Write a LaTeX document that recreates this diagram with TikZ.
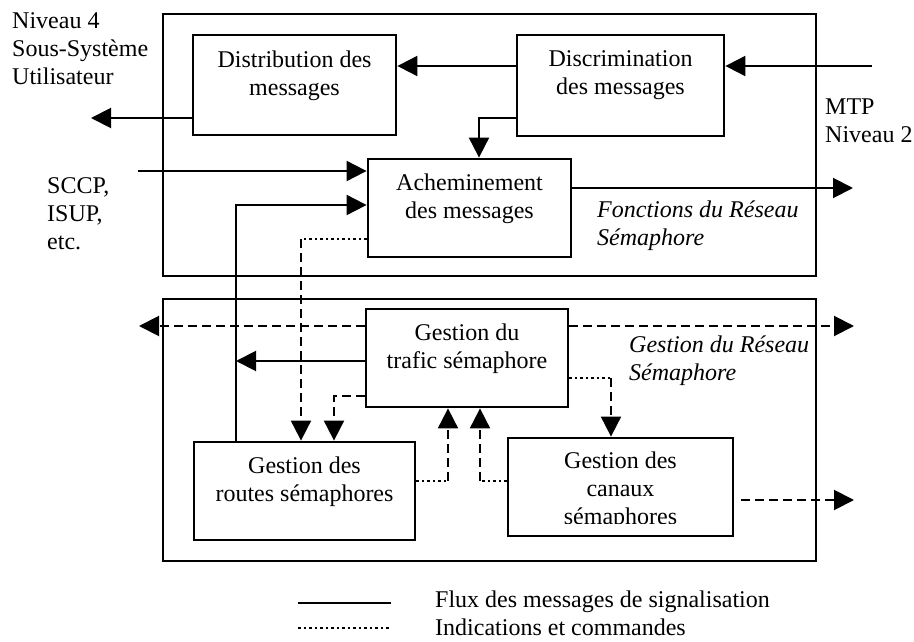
\documentclass[tikz,border=0pt]{standalone}
\usepackage{fontspec}
\setmainfont{Liberation Serif}
\usetikzlibrary{arrows.meta}
\begin{document}
\begin{tikzpicture}[x=1pt,y=-1pt,
  every node/.style={font=\fontsize{24}{28}\selectfont},
  frame/.style={draw, line width=2.8pt, inner sep=0pt},
  func/.style={draw, line width=2.8pt, inner sep=0pt, fill=white},
  txt/.style={align=center, inner sep=0pt},
  note/.style={align=left, inner sep=0pt, anchor=west},
  headtip/.style={-{Triangle[length=20pt,width=20pt]}},
  flow/.style={line width=2pt, headtip},
  flowline/.style={line width=2pt},
  ind/.style={line width=2.5pt, dash pattern=on 2.5pt off 3pt},
  cmd/.style={line width=2pt, dash pattern=on 9pt off 5pt, headtip},
]
\useasboundingbox (0,0) rectangle (914,642);

% the two functional groups
\node[frame, minimum width=653pt, minimum height=262pt] (fonc) at (489.5,145) {};
\node[frame, minimum width=653pt, minimum height=262pt] (gest) at (489.5,430) {};

% function boxes
\node[func, minimum width=203pt, minimum height=100pt] (dist) at (294.5,85) {};
\node[func, minimum width=207pt, minimum height=101pt] (disc) at (620.5,85.5) {};
\node[func, minimum width=203pt, minimum height=98pt] (ach) at (469.5,208) {};
\node[func, minimum width=202pt, minimum height=98pt] (traf) at (467,358) {};
\node[func, minimum width=221pt, minimum height=98pt] (rout) at (304.5,491) {};
\node[func, minimum width=225pt, minimum height=98pt] (can) at (620.5,487) {};

% box captions
\node[txt] (dist-t) at (294.5,76) {Distribution des\\messages};
\node[txt] (disc-t) at (620.5,75) {Discrimination\\des messages};
\node[txt] (ach-t) at (469.5,199) {Acheminement\\des messages};
\node[txt] (traf-t) at (467,348.5) {Gestion du\\trafic sémaphore};
\node[txt] (rout-t) at (304.5,482) {Gestion des\\routes sémaphores};
\begin{scope}
  \clip (508,438) rectangle (733,523);
  \node[txt] (can-t) at (620.5,490.5) {Gestion des\\canaux\\sémaphores};
\end{scope}

% outside labels
\node[note] (niv4) at (12,49) {Niveau 4\\Sous-Système\\Utilisateur};
\node[note] (sccp) at (47,214) {SCCP,\\ISUP,\\etc.};
\node[note] (mtp) at (825,121) {MTP\\Niveau 2};
\node[note, font=\fontsize{24}{28}\selectfont\itshape] (fonc-t) at (597,226) {Fonctions du Réseau\\Sémaphore};
\node[note, font=\fontsize{24}{28}\selectfont\itshape] (gest-t) at (629,361) {Gestion du Réseau\\Sémaphore};

% free ends and bends
\coordinate (mtp-in) at (872,66);
\coordinate (n4-out) at (91,118);
\coordinate (sccp-in) at (138,171);
\coordinate (mtp-out) at (853,188);
\coordinate (gl-out) at (139,326);
\coordinate (gr-out) at (854,326);
\coordinate (cr-out) at (854,500);
\coordinate (riser) at ([xshift=-68.5pt]rout.north);
\coordinate (traf-w) at ([yshift=-3pt]traf.west);
\coordinate (k-ach) at (301,239);
\coordinate (k-rout) at (448,481);
\coordinate (k-can) at (480,481);
\coordinate (k-traf) at (611,378);

% message flows
\draw[flow] (mtp-in) -- (mtp-in -| disc.east);
\draw[flow] (disc.west |- mtp-in) -- (dist.east |- mtp-in);
\draw[flow] (dist.west |- n4-out) -- (n4-out);
\draw[flow] (disc.west |- n4-out) -| ([xshift=9.5pt]ach.north);
\draw[flow] (sccp-in) -- (sccp-in -| ach.west);
\draw[flow] (riser) |- ([yshift=3pt]ach.west);
\draw[flow] (ach.east |- mtp-out) -- (mtp-out);
\draw[flow] (traf-w) -- (traf-w -| riser);

% indications and commands
\draw[ind] ([yshift=-31pt]ach.west) -- (k-ach);
\draw[cmd] (k-ach) -- (k-ach |- rout.north);
\draw[cmd] (traf.west |- gl-out) -- (gl-out);
\draw[cmd] (traf.east |- gr-out) -- (gr-out);
\draw[cmd] ([yshift=-38pt]traf.west) -| ([xshift=29.5pt]rout.north);
\draw[ind] (rout.east |- k-rout) -- (k-rout);
\draw[cmd] (k-rout) -- (k-rout |- traf.south);
\draw[ind] (can.west |- k-can) -- (k-can);
\draw[cmd] (k-can) -- (k-can |- traf.south);
\draw[ind] (traf.east |- k-traf) -- (k-traf);
\draw[cmd] (k-traf) -- (k-traf |- can.north);
\draw[cmd, shorten <=7pt] (can.east |- cr-out) -- (cr-out);

% legend
\coordinate (lg-a1) at (298,603);
\coordinate (lg-a2) at (391,603);
\coordinate (lg-b1) at (298,628);
\coordinate (lg-b2) at (391,628);
\draw[flowline] (lg-a1) -- (lg-a2);
\draw[ind] (lg-b1) -- (lg-b2);
\node[note] (lg-flux) at (435,602) {Flux des messages de signalisation};
\node[note] (lg-ind) at (435,627) {Indications et commandes};
\end{tikzpicture}
\end{document}
